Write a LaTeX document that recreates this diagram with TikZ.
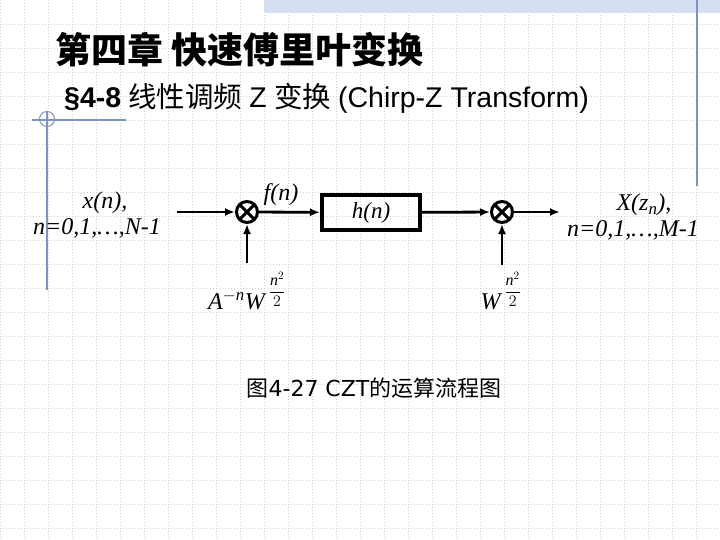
\RequirePackage{fix-cm}
\documentclass[tikz,border=0pt]{standalone}
\usepackage{fontspec}
\setmainfont{Liberation Serif}
\newfontfamily\cjk{Noto Sans CJK SC}
\newfontfamily\arial{Liberation Sans}
\newfontfamily\dejavu{DejaVu Sans}
\usetikzlibrary{arrows.meta}
\definecolor{gridgray}{RGB}{205,205,205}
\definecolor{slideblue}{RGB}{128,148,186}
\definecolor{bandblue}{RGB}{214,223,242}
\newcommand{\setfs}[1]{\fontsize{#1}{#1}\selectfont}
\newcommand{\halfsq}{\mbox{\hspace{4pt}\raisebox{5pt}{\setfs{16}$\displaystyle\frac{\mathit{n}^{2}}{2}$}}}

\begin{document}
\begin{tikzpicture}[x=1pt,y=-1pt,every node/.style={inner sep=0pt},
  gridline/.style={gridgray,dash pattern=on 1pt off 2pt,line width=0.6pt},
  deco/.style={slideblue,line width=1.3pt},
  mult/.style={draw,circle,line width=3pt,minimum size=21pt,
    path picture={\draw[line width=3pt]
      (path picture bounding box.north west) -- (path picture bounding box.south east)
      (path picture bounding box.north east) -- (path picture bounding box.south west);}},
  filt/.style={draw,line width=4pt,minimum width=98pt,minimum height=35pt},
  sig/.style={-{Latex[length=10pt,width=8pt]},line width=2.8pt},
  lbl/.style={font=\fontsize{24}{26}\selectfont\itshape,align=center}]
\useasboundingbox (0,0) rectangle (720,540);
% slide background
\foreach \gx in {0,24,...,720} \draw[gridline] (\gx,0) -- (\gx,540);
\foreach \gy in {24,48,...,528} \draw[gridline] (0,\gy) -- (720,\gy);
\fill[bandblue] (264,0) rectangle (720,13);
\draw[deco] (697,0) -- (697,186);
\draw[deco] (32,120) -- (126,120);
\draw[deco] (47,111) -- (47,290);
\draw[deco,line width=1pt] (47,119) circle (7.5);
% headings
\node[anchor=west] (title) at (55,50) {\cjk\bfseries\setfs{36}第四章 快速傅里叶变换};
\node[anchor=west] (sub) at (64,98) {\setfs{28.5}{\arial\bfseries §4-8} {\cjk 线性调频} {\arial Z} {\cjk 变换} {\arial (Chirp-Z Transform)}};
% flow chart
\node[lbl] (xin) at (97,215) {\hspace*{16pt}x(n),\\n=0,1,…,N-1};
\coordinate (in) at (177,212);
\node[mult] (m1) at (247,212) {};
\node[lbl] (fn) at (281,195) {f(n)};
\node[filt,font=\setfs{23}\itshape] (hn) at (371,212.5) {h(n)};
\node[mult] (m2) at (502,212) {};
\coordinate (out) at (560,212);
\node[lbl] (Xout) at (633,217) {\hspace*{22pt}X(z\textsubscript{n}),\\n=0,1,…,M-1};
\coordinate (v1) at (247,263);
\coordinate (v2) at (502,265);
\node[font=\setfs{24}] (aw) at (247,291) {$\mathit{A}^{-\mathit{n}}\mathit{W}^{\halfsq}$};
\node[font=\setfs{24}] (w) at (501,291) {$\mathit{W}^{\halfsq}$};
\draw[sig] (in) -- (m1);
\draw[sig] (m1) -- (hn);
\draw[sig] (hn) -- (m2);
\draw[sig] (m2) -- (out);
\draw[sig] (v1) -- (m1);
\draw[sig] (v2) -- (m2);
% caption
\node (cap) at (374,388) {\setfs{22}\cjk 图{\dejavu 4-27 CZT}的运算流程图};
\end{tikzpicture}
\end{document}
